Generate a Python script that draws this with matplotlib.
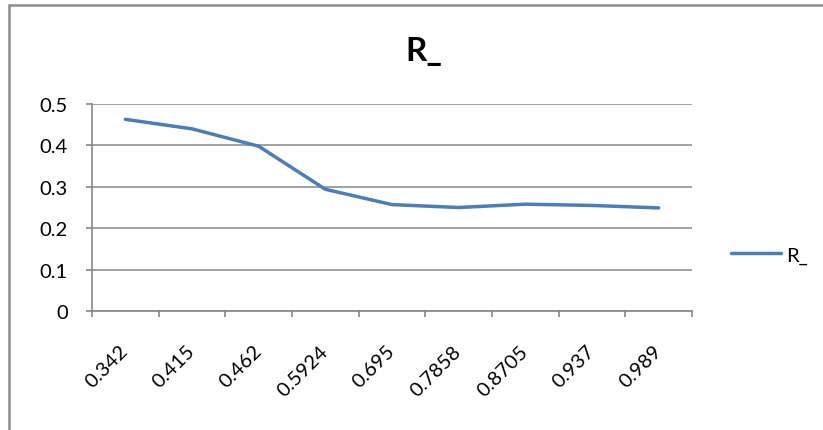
import matplotlib.pyplot as plt
from matplotlib.patches import Rectangle

# -------------------------------
# Data
# -------------------------------
categories = ["0.342", "0.415", "0.462", "0.5924", "0.695",
              "0.7858", "0.8705", "0.937", "0.989"]
r_values = [0.463, 0.440, 0.398, 0.294, 0.257, 0.250, 0.258, 0.255, 0.249]
y_ticks = [0, 0.1, 0.2, 0.3, 0.4, 0.5]

# -------------------------------
# Style
# -------------------------------
plt.rcParams["font.family"] = ["Lato", "DejaVu Sans"]
line_color = "#4A7EBB"
axis_color = "#878787"
label_size = 14.5

fig = plt.figure(figsize=(8.23, 4.31), dpi=100)
ax = fig.add_axes([92 / 823, 1 - 312 / 431, 600 / 823, 207 / 431])

positions = list(range(len(categories)))
ax.plot(positions, r_values, color=line_color, linewidth=2.5,
        solid_joinstyle="round", solid_capstyle="round", label="R_")

ax.set_xlim(-0.5, len(categories) - 0.5)
ax.set_ylim(0, 0.5)

# gridlines and axes
ax.set_yticks(y_ticks)
ax.set_yticklabels(["0", "0.1", "0.2", "0.3", "0.4", "0.5"], fontsize=label_size)
ax.yaxis.grid(True, color=axis_color, linewidth=1.1)
ax.set_axisbelow(True)
for side in ["top", "right"]:
    ax.spines[side].set_visible(False)
for side in ["left", "bottom"]:
    ax.spines[side].set_color(axis_color)
    ax.spines[side].set_linewidth(1.2)

# tick marks on category boundaries, labels on centres
ax.set_xticks([p - 0.5 for p in positions] + [len(categories) - 0.5])
ax.set_xticklabels([])
ax.set_xticks(positions, minor=True)
ax.set_xticklabels(categories, minor=True, rotation=45, ha="right",
                   va="center", rotation_mode="anchor", fontsize=label_size)
ax.tick_params(axis="x", which="major", length=4.5, color=axis_color, width=1.2)
ax.tick_params(axis="x", which="minor", length=0, pad=26.5)
ax.tick_params(axis="y", length=4.5, color=axis_color, width=1.2, pad=13)

# title
fig.text(424 / 823, 1 - 51 / 431, "R_", fontsize=24, fontweight="bold",
         ha="center", va="center")

# legend
ax.legend(loc="center left", bbox_to_anchor=(731 / 823, 1 - 256 / 431),
          bbox_transform=fig.transFigure, frameon=False, fontsize=label_size,
          borderpad=0, borderaxespad=0, handlelength=2.5, handletextpad=0.25)

# chart border
fig.add_artist(Rectangle((8.5 / 823, -0.2), 1.2, 1.2 - 5.5 / 431,
                         transform=fig.transFigure, fill=False,
                         edgecolor="#8c8c8c", linewidth=1.8))

plt.savefig("out.png", dpi=100)
